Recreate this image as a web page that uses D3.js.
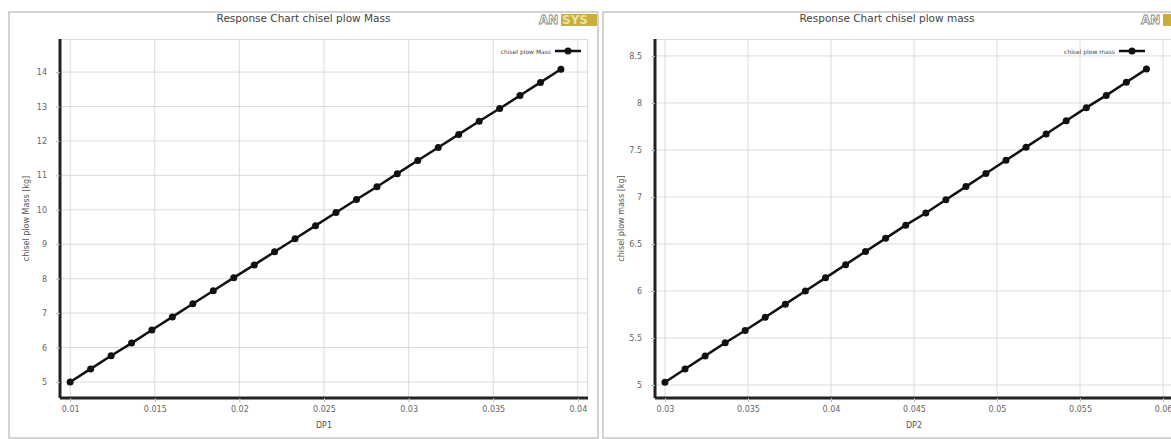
<!DOCTYPE html>
<html>
<head>
<meta charset="utf-8">
<script src="https://cdn.jsdelivr.net/npm/d3@7"></script>
<style>
  body { margin: 0; background: #fff; }
  svg { display: block; font-family: "DejaVu Sans", sans-serif; }
</style>
</head>
<body>
<svg id="chart" width="1171" height="439"></svg>
<script>
// DP1 -> chisel plow Mass (left chart)
const dp1 = [0.01, 0.01121, 0.01242, 0.01363, 0.01483, 0.01604, 0.01725, 0.01846, 0.01967, 0.02088,
    0.02208, 0.02329, 0.0245, 0.02571, 0.02692, 0.02813, 0.02933, 0.03054, 0.03175, 0.03296,
    0.03417, 0.03538, 0.03658, 0.03779, 0.039];
const mass1 = [5.00, 5.38, 5.76, 6.13, 6.51, 6.89, 7.27, 7.65, 8.03, 8.40,
    8.78, 9.16, 9.54, 9.92, 10.30, 10.67, 11.05, 11.43, 11.81, 12.19,
    12.57, 12.94, 13.32, 13.70, 14.08];
const xTicks1 = [0.01, 0.015, 0.02, 0.025, 0.03, 0.035, 0.04];
const xTickLabels1 = ["0.01", "0.015", "0.02", "0.025", "0.03", "0.035", "0.04"];
const yTicks1 = [5, 6, 7, 8, 9, 10, 11, 12, 13, 14];

// DP2 -> chisel plow mass (right chart)
const dp2 = [0.03, 0.03121, 0.03242, 0.03363, 0.03483, 0.03604, 0.03725, 0.03846, 0.03967, 0.04088,
    0.04208, 0.04329, 0.0445, 0.04571, 0.04692, 0.04813, 0.04933, 0.05054, 0.05175, 0.05296,
    0.05417, 0.05538, 0.05658, 0.05779, 0.059];
const mass2 = [5.03, 5.17, 5.31, 5.45, 5.58, 5.72, 5.86, 6.00, 6.14, 6.28,
    6.42, 6.56, 6.70, 6.83, 6.97, 7.11, 7.25, 7.39, 7.53, 7.67,
    7.81, 7.95, 8.08, 8.22, 8.36];
const xTicks2 = [0.03, 0.035, 0.04, 0.045, 0.05, 0.055, 0.06];
const xTickLabels2 = ["0.03", "0.035", "0.04", "0.045", "0.05", "0.055", "0.06"];
const yTicks2 = [5, 5.5, 6, 6.5, 7, 7.5, 8, 8.5];
const yTickLabels2 = ["5", "5.5", "6", "6.5", "7", "7.5", "8", "8.5"];

const svg = d3.select("#chart");

function drawPanel(p) {
    const g = svg.append("g").attr("transform", "translate(" + p.left + ",0)");

    // panel frame
    g.append("rect")
        .attr("x", 0).attr("y", 12)
        .attr("width", p.panelW).attr("height", 426)
        .attr("fill", "#fff").attr("stroke", "#c4c4c4").attr("stroke-width", 1.5);

    g.append("text")
        .attr("x", p.panelW / 2 + p.titleShift).attr("y", 22)
        .attr("text-anchor", "middle")
        .style("font-size", "10.5px").attr("fill", "#444")
        .text(p.title);

    // ANSYS logo, roughly
    const logo = g.append("g").attr("transform", "translate(" + p.logoX + ",13)");
    logo.append("text").attr("x", 0).attr("y", 11)
        .style("font-size", "12px").style("font-weight", "bold")
        .attr("fill", "#fff").attr("stroke", "#888").attr("stroke-width", 0.8)
        .text("AN");
    logo.append("rect").attr("x", 22).attr("y", 1).attr("width", 36).attr("height", 12)
        .attr("fill", "#c9ae3c");
    if (p.logoFull) {
        logo.append("text").attr("x", 23).attr("y", 11)
            .style("font-size", "12px").style("font-weight", "bold")
            .attr("fill", "#efe2a0")
            .text("SYS");
    }

    const plot = g.append("g").attr("transform", "translate(" + p.ml + "," + p.mt + ")");
    const w = p.plotW, h = p.plotH;

    const x = d3.scaleLinear().domain(p.xDomain).range([0, w]);
    const y = d3.scaleLinear().domain(p.yDomain).range([h, 0]);

    // grid
    plot.append("g").selectAll("line").data(p.xTicks).enter().append("line")
        .attr("x1", d => x(d)).attr("x2", d => x(d))
        .attr("y1", 0).attr("y2", h)
        .attr("stroke", "#dcdcdc");
    plot.append("g").selectAll("line").data(p.yTicks).enter().append("line")
        .attr("x1", 0).attr("x2", w)
        .attr("y1", d => y(d)).attr("y2", d => y(d))
        .attr("stroke", "#dcdcdc");
    plot.append("line").attr("x1", 0).attr("x2", w).attr("y1", 0.5).attr("y2", 0.5).attr("stroke", "#dcdcdc");
    plot.append("line").attr("x1", w - 0.5).attr("x2", w - 0.5).attr("y1", 0).attr("y2", h).attr("stroke", "#dcdcdc");

    const xAxis = plot.append("g")
        .attr("transform", "translate(0," + h + ")")
        .call(d3.axisBottom(x).tickValues(p.xTicks).tickSize(4).tickPadding(4)
            .tickFormat((d, i) => p.xTickLabels[i]));
    const yAxis = plot.append("g")
        .call(d3.axisLeft(y).tickValues(p.yTicks).tickSize(4).tickPadding(9)
            .tickFormat((d, i) => p.yTickLabels ? p.yTickLabels[i] : d));
    [xAxis, yAxis].forEach(a => {
        a.select(".domain").attr("stroke", "#222").attr("stroke-width", 3);
        a.selectAll(".tick line").attr("stroke", "#bbb");
        a.selectAll(".tick text").attr("fill", "#666")
            .style("font-size", "8px").style("font-family", "DejaVu Sans, sans-serif");
    });
    xAxis.select(".domain").attr("d", "M0,0H" + w);
    yAxis.select(".domain").attr("d", "M0,0V" + h);

    plot.append("text")
        .attr("x", w / 2).attr("y", h + 30)
        .attr("text-anchor", "middle")
        .style("font-size", "8px").attr("fill", "#555")
        .text(p.xLabel);
    plot.append("text")
        .attr("transform", "rotate(-90)")
        .attr("x", -h / 2).attr("y", -31)
        .attr("text-anchor", "middle")
        .style("font-size", "8px").attr("fill", "#555")
        .text(p.yLabel);

    const pts = p.xs.map((d, i) => ({ x: d, y: p.ys[i] }));
    plot.append("path")
        .datum(pts)
        .attr("fill", "none").attr("stroke", "#111").attr("stroke-width", 2.5)
        .attr("d", d3.line().x(d => x(d.x)).y(d => y(d.y)));
    plot.selectAll(".dot").data(pts).enter().append("circle")
        .attr("class", "dot")
        .attr("cx", d => x(d.x)).attr("cy", d => y(d.y))
        .attr("r", 3.5).attr("fill", "#111");

    // legend
    const lg = plot.append("g").attr("transform", "translate(" + (w - p.legendRight) + ",12)");
    lg.append("text").attr("x", -30).attr("y", 2.5)
        .attr("text-anchor", "end")
        .style("font-size", "6px").attr("fill", "#444")
        .text(p.yLabel.replace("  [kg]", ""));
    lg.append("line").attr("x1", -26).attr("x2", 0).attr("y1", 0).attr("y2", 0)
        .attr("stroke", "#111").attr("stroke-width", 2.5);
    lg.append("circle").attr("cx", -13).attr("cy", 0).attr("r", 3.5).attr("fill", "#111");
}

drawPanel({
    left: 9, panelW: 589, titleShift: 0, logoX: 530, logoFull: true,
    ml: 51, mt: 39, plotW: 528, plotH: 359,
    xDomain: [0.0094, 0.0406], yDomain: [4.535, 14.96],
    xTicks: xTicks1, xTickLabels: xTickLabels1, yTicks: yTicks1,
    xs: dp1, ys: mass1,
    title: "Response Chart chisel plow Mass",
    xLabel: "DP1", yLabel: "chisel plow Mass  [kg]",
    legendRight: 7
});

drawPanel({
    left: 603, panelW: 600, titleShift: -16, logoX: 538, logoFull: false,
    ml: 52, mt: 39, plotW: 518, plotH: 359,
    xDomain: [0.0294, 0.0606], yDomain: [4.862, 8.68],
    xTicks: xTicks2, xTickLabels: xTickLabels2, yTicks: yTicks2, yTickLabels: yTickLabels2,
    xs: dp2, ys: mass2,
    title: "Response Chart chisel plow mass",
    xLabel: "DP2", yLabel: "chisel plow mass  [kg]",
    legendRight: 28
});
</script>
</body>
</html>
